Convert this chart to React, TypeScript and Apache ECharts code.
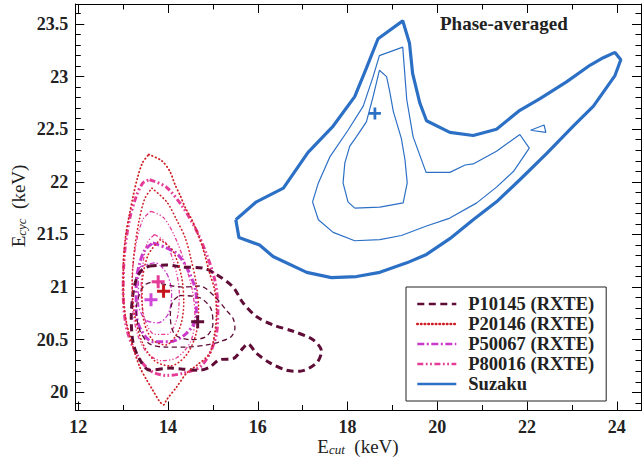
import React, { useEffect, useRef } from "react";
import * as echarts from "echarts";

type Pt = [number, number];

const X_MIN = 11.933;
const X_MAX = 24.54;
const Y_MIN = 19.827;
const Y_MAX = 23.69;

const legendNames = ["P10145 (RXTE)", "P20146 (RXTE)", "P50067 (RXTE)", "P80016 (RXTE)", "Suzaku"];
const colors = ["#5f0c36", "#cf1f24", "#c93acb", "#e53d97", "#2c70c6"];
const titleText = "Phase-averaged";

// Suzaku contours
const suzakuOuter: Pt[] = [
  [15.51, 21.64], [15.58, 21.47], [16.04, 21.4], [16.34, 21.29], [17.09, 21.14], [17.64, 21.09],
  [18.2, 21.1], [18.72, 21.14], [19.32, 21.23], [19.76, 21.31], [20.28, 21.46], [20.8, 21.64],
  [21.32, 21.81], [21.84, 22.02], [22.44, 22.27], [23.03, 22.53], [23.48, 22.72], [23.96, 23.01],
  [24.09, 23.16], [23.96, 23.23], [23.7, 23.18], [23.41, 23.11], [22.88, 22.95], [22.29, 22.79],
  [21.84, 22.68], [21.32, 22.5], [20.8, 22.44], [20.28, 22.47], [19.76, 22.58], [19.61, 22.75],
  [19.45, 23.03], [19.38, 23.32], [19.23, 23.53], [18.68, 23.36], [18.42, 23.08], [18.16, 22.81],
  [17.68, 22.53], [17.12, 22.28], [16.57, 21.94], [15.97, 21.81],
];
const suzakuMiddle: Pt[] = [
  [17.22, 21.81], [17.35, 21.64], [17.68, 21.52], [18.16, 21.44], [18.72, 21.45], [19.2, 21.49],
  [19.76, 21.58], [20.25, 21.65], [20.88, 21.8], [21.32, 21.95], [21.7, 22.1], [22.05, 22.32],
  [21.84, 22.45], [21.32, 22.29], [20.8, 22.17], [20.62, 22.16], [20.28, 22.09], [19.75, 22.09],
  [19.46, 22.43], [19.32, 22.78], [19.23, 23.28], [18.71, 23.2], [18.57, 23.0], [18.35, 22.72],
  [18.01, 22.49], [17.61, 22.24], [17.35, 21.99],
];
const suzakuInner: Pt[] = [
  [18.16, 21.75], [18.01, 21.81], [17.9, 21.99], [17.94, 22.18], [18.05, 22.34], [18.2, 22.43],
  [18.42, 22.57], [18.57, 22.81], [18.71, 23.06], [18.87, 23.0], [18.94, 22.86], [19.02, 22.67],
  [19.2, 22.41], [19.28, 22.21], [19.33, 21.99], [19.24, 21.8], [18.72, 21.76],
];
const suzakuIsland: Pt[] = [[22.08, 22.49], [22.38, 22.54], [22.42, 22.47]];

// P10145 contours
const p10145Outer: Pt[] = [
  [13.59, 21.2], [13.96, 21.21], [14.33, 21.19], [14.78, 21.18], [15.08, 21.12], [15.45, 21.0],
  [15.67, 20.85], [15.97, 20.72], [16.34, 20.64], [16.79, 20.58], [17.23, 20.5], [17.42, 20.39],
  [17.31, 20.28], [16.94, 20.2], [16.64, 20.21], [16.27, 20.28], [15.97, 20.37], [15.78, 20.46],
  [15.67, 20.42], [15.45, 20.32], [15.15, 20.31], [14.93, 20.24], [14.71, 20.21], [14.33, 20.22],
  [14.04, 20.23], [13.59, 20.21], [13.37, 20.31], [13.22, 20.47], [13.18, 20.72], [13.22, 20.94],
  [13.29, 21.07], [13.41, 21.16],
];
const p10145Middle: Pt[] = [
  [13.66, 21.05], [14.33, 21.0], [14.71, 21.01], [15.04, 20.91], [15.3, 20.78], [15.45, 20.7],
  [15.49, 20.61], [15.41, 20.53], [15.15, 20.48], [14.86, 20.45], [14.41, 20.43], [13.96, 20.43],
  [13.59, 20.46], [13.37, 20.59], [13.29, 20.78], [13.37, 20.94], [13.48, 21.02],
];
const p10145Inner: Pt[] = [
  [14.25, 20.92], [14.7, 20.9], [14.95, 20.8], [15.0, 20.65], [14.85, 20.53], [14.5, 20.5],
  [14.15, 20.55], [14.05, 20.72], [14.1, 20.86],
];

// P20146 contours
const p20146Outer: Pt[] = [
  [13.57, 22.26], [13.86, 22.2], [14.04, 22.1], [14.15, 21.98], [14.27, 21.87], [14.39, 21.75],
  [14.53, 21.64], [14.66, 21.51], [14.77, 21.38], [14.93, 21.13], [15.04, 20.97], [15.08, 20.75],
  [15.04, 20.56], [14.93, 20.37], [14.65, 20.26], [14.41, 20.18], [14.19, 20.05], [13.97, 19.93],
  [13.9, 19.88], [13.8, 19.92], [13.66, 20.02], [13.52, 20.12], [13.37, 20.24], [13.22, 20.43],
  [13.06, 20.69], [13.0, 20.97], [13.01, 21.26], [13.06, 21.5], [13.14, 21.69], [13.22, 21.86],
  [13.32, 22.04], [13.43, 22.18],
];
const p20146Middle: Pt[] = [
  [13.64, 21.94], [13.97, 21.81], [14.19, 21.64], [14.39, 21.46], [14.51, 21.27], [14.62, 21.05],
  [14.68, 20.8], [14.62, 20.55], [14.4, 20.35], [14.05, 20.25], [13.7, 20.3], [13.42, 20.48],
  [13.25, 20.75], [13.2, 21.05], [13.25, 21.35], [13.35, 21.62], [13.48, 21.84],
];
const p20146Inner: Pt[] = [
  [13.82, 21.45], [14.1, 21.35], [14.3, 21.1], [14.35, 20.85], [14.25, 20.6], [13.95, 20.45],
  [13.65, 20.5], [13.45, 20.7], [13.42, 21.0], [13.55, 21.3],
];

// P50067 contours
const p50067Outer: Pt[] = [
  [13.66, 21.42], [14.19, 21.32], [14.48, 21.13], [14.63, 20.91], [14.63, 20.72], [14.41, 20.56],
  [14.04, 20.48], [13.66, 20.48], [13.4, 20.59], [13.29, 20.75], [13.29, 21.04], [13.37, 21.23],
  [13.48, 21.35],
];
const p50067Inner: Pt[] = [
  [13.37, 21.19], [13.71, 21.23], [13.97, 21.13], [14.08, 20.94], [14.01, 20.75], [13.78, 20.66],
  [13.49, 20.69], [13.34, 20.85], [13.34, 21.07],
];

// P80016 contours
const p80016Outer: Pt[] = [
  [13.59, 22.02], [13.96, 21.95], [14.33, 21.76], [14.63, 21.54], [14.85, 21.32], [15.04, 21.07],
  [15.11, 20.81], [15.08, 20.56], [14.93, 20.37], [14.71, 20.24], [14.33, 20.18], [13.96, 20.16],
  [13.59, 20.21], [13.29, 20.37], [13.07, 20.62], [13.0, 20.97], [13.03, 21.32], [13.14, 21.64],
  [13.29, 21.86], [13.44, 21.99],
];
const p80016Middle: Pt[] = [
  [13.62, 21.72], [13.9, 21.66], [14.15, 21.48], [14.38, 21.22], [14.55, 20.95], [14.6, 20.7],
  [14.5, 20.48], [14.2, 20.33], [13.85, 20.3], [13.52, 20.38], [13.3, 20.58], [13.2, 20.88],
  [13.22, 21.2], [13.32, 21.48], [13.45, 21.65],
];
const p80016Inner: Pt[] = [
  [13.7, 21.5], [13.95, 21.42], [14.15, 21.2], [14.25, 20.95], [14.2, 20.7], [13.98, 20.55],
  [13.7, 20.55], [13.48, 20.7], [13.4, 20.98], [13.45, 21.25], [13.55, 21.43],
];

// best-fit markers (P10145, P20146, P50067, P80016, Suzaku)
const markerPoints: Pt[] = [[14.66, 20.67], [13.9, 20.96], [13.62, 20.88], [13.78, 21.05], [18.61, 22.65]];

const SERIF = '"Liberation Serif", "Times New Roman", serif';
const PLUS = "path://M3.85,0h2.3v3.85h3.85v2.3h-3.85v3.85h-2.3v-3.85h-3.85v-2.3h3.85z";

function contour(name: string, pts: Pt[], color: string, width: number, dash: any, smooth: number, z: number, cap = "butt") {
  return {
    type: "line",
    name,
    data: [...pts, pts[0]],
    symbol: "none",
    showSymbol: false,
    smooth,
    color,
    itemStyle: { color },
    lineStyle: { color, width, type: dash, cap },
    silent: true,
    z,
  };
}

function axisBase(min: number, max: number, split: number, minorSplit: number, position: string, showLabel: boolean) {
  return {
    type: "value",
    min,
    max,
    position,
    splitNumber: split,
    axisLine: { show: true, onZero: false, lineStyle: { color: "#000", width: 1 } },
    axisTick: { show: true, inside: true, length: 9, lineStyle: { color: "#000", width: 1 } },
    minorTick: { show: true, splitNumber: minorSplit, length: 5.5, lineStyle: { color: "#000", width: 1 } },
    splitLine: { show: false },
    minorSplitLine: { show: false },
    axisLabel: {
      show: showLabel,
      showMinLabel: false,
      showMaxLabel: false,
      color: "#222",
      fontFamily: SERIF,
      fontWeight: "bold",
      fontSize: 18,
      margin: 7,
    },
  };
}

export default function App() {
  const ref = useRef<HTMLDivElement>(null);
  useEffect(() => {
    const chart = echarts.init(ref.current!, null, { renderer: "svg" });
    const [cM, cR, cV, cP, cB] = colors;
    const series: any[] = [
      contour(legendNames[0], p10145Outer, cM, 3, [7, 4.5], 0.3, 5),
      contour(legendNames[0], p10145Middle, cM, 1.3, [5, 3.5], 0.3, 5),
      contour(legendNames[0], p10145Inner, cM, 1.3, [5, 3.5], 0.3, 5),
      contour(legendNames[1], p20146Outer, cR, 1.8, [0.5, 3.2], 0.3, 6, "round"),
      contour(legendNames[1], p20146Middle, cR, 1.6, [0.5, 3.2], 0.3, 6, "round"),
      contour(legendNames[1], p20146Inner, cR, 1.6, [0.5, 3.2], 0.3, 6, "round"),
      contour(legendNames[2], p50067Outer, cV, 3, [7, 2.5, 2, 2.5], 0.3, 4),
      contour(legendNames[2], p50067Inner, cV, 1.3, [5, 2, 1.5, 2], 0.3, 4),
      contour(legendNames[3], p80016Outer, cP, 3, [6, 2.5, 1.8, 2.5, 1.8, 2.5], 0.3, 3),
      contour(legendNames[3], p80016Middle, cP, 1.3, [4, 2, 1.3, 2, 1.3, 2], 0.3, 3),
      contour(legendNames[3], p80016Inner, cP, 1.3, [4, 2, 1.3, 2, 1.3, 2], 0.3, 3),
      contour(legendNames[4], suzakuOuter, cB, 3.2, "solid", 0, 2),
      contour(legendNames[4], suzakuMiddle, cB, 1.2, "solid", 0, 2),
      contour(legendNames[4], suzakuInner, cB, 1.2, "solid", 0, 2),
      contour(legendNames[4], suzakuIsland, cB, 1.2, "solid", 0, 2),
    ];
    const markerColors = [cM, "#c4161c", "#d048d8", cP, cB];
    markerPoints.forEach((p, i) => {
      series.push({
        type: "scatter",
        name: "marker" + i,
        data: [p],
        symbol: PLUS,
        symbolSize: i === 4 ? 12 : 13,
        itemStyle: { color: markerColors[i], opacity: 1 },
        silent: true,
        z: 10,
      });
    });

    const nameRich = {
      e: { fontSize: 19, fontFamily: SERIF, fill: "#222", color: "#222" },
      s: { fontSize: 13, fontFamily: SERIF, fontStyle: "italic", fill: "#222", color: "#222", lineHeight: 6, verticalAlign: "bottom" },
    };

    chart.setOption({
      animation: false,
      backgroundColor: "#fff",
      grid: { left: 75.3, right: 1, top: 4, bottom: 46.5, containLabel: false, outerBoundsMode: "none" },
      xAxis: [axisBase(X_MIN, X_MAX, 6, 2, "bottom", true), axisBase(X_MIN, X_MAX, 6, 2, "top", false)],
      yAxis: [axisBase(Y_MIN, Y_MAX, 8, 5, "left", true), axisBase(Y_MIN, Y_MAX, 8, 5, "right", false)],
      legend: {
        data: legendNames,
        orient: "vertical",
        left: 406,
        top: 287,
        padding: [7, 12, 7, 10],
        itemWidth: 39,
        itemHeight: 14,
        itemGap: 0,
        backgroundColor: "#fff",
        borderColor: "#222",
        borderWidth: 1,
        borderRadius: 0,
        lineStyle: { width: 2.6 },
        itemStyle: { color: "rgba(0,0,0,0)", borderWidth: 0, opacity: 0 },
        textStyle: {
          fontFamily: SERIF,
          fontWeight: "bold",
          fontSize: 18.5,
          color: "#222",
          lineHeight: 20,
          padding: [0, 0, 0, 7],
        },
        selectedMode: false,
      },
      graphic: [
        {
          type: "text",
          x: 440,
          y: 23,
          z: 20,
          style: {
            text: titleText,
            fontFamily: SERIF,
            fontWeight: "bold",
            fontSize: 19,
            fill: "#222",
            align: "left",
            verticalAlign: "middle",
          },
        },
        {
          type: "text",
          x: 358,
          y: 446,
          z: 20,
          style: {
            text: "{e|E}{s|cut}{e|  (keV)}",
            rich: nameRich,
            align: "center",
            verticalAlign: "middle",
          },
        },
        {
          type: "text",
          x: 18,
          y: 206,
          rotation: Math.PI / 2,
          z: 20,
          style: {
            text: "{e|E}{s|cyc}{e|  (keV)}",
            rich: nameRich,
            align: "center",
            verticalAlign: "middle",
          },
        },
      ],
      series,
    });
    return () => chart.dispose();
  }, []);
  return (
    <div
      ref={ref}
      style={{ position: "fixed", left: 0, top: 0, width: 642, height: 457, background: "#fff" }}
    />
  );
}
